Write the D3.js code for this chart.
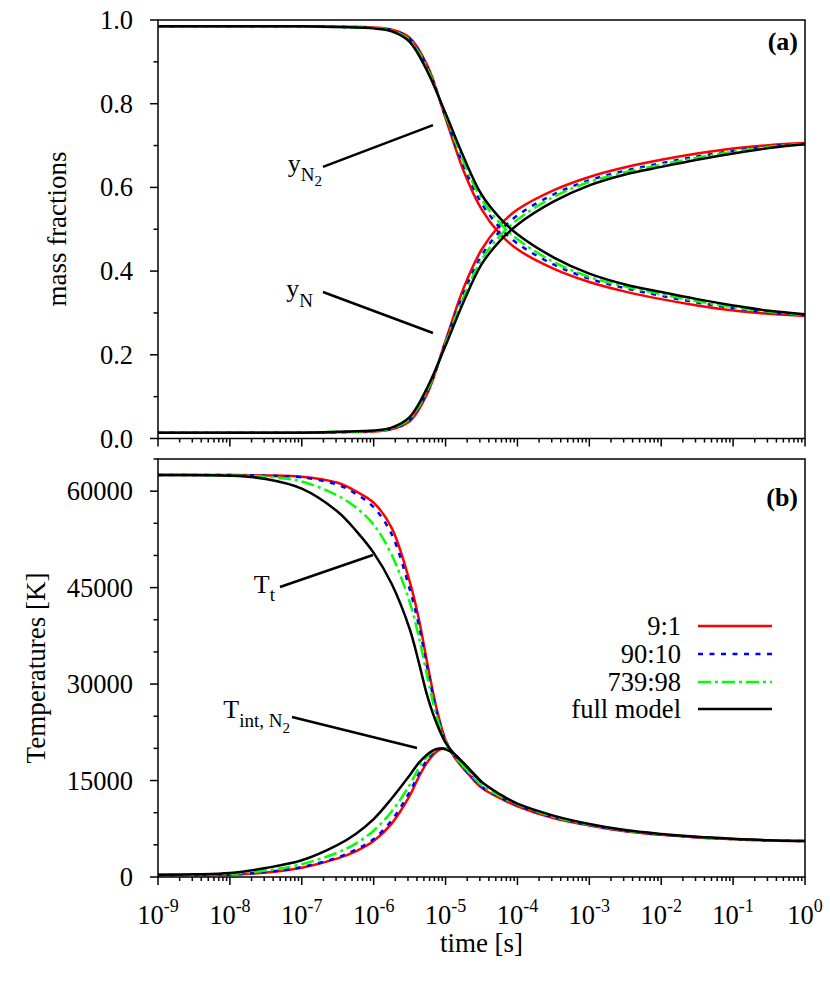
<!DOCTYPE html>
<html><head><meta charset="utf-8">
<script src="https://cdn.jsdelivr.net/npm/d3@7"></script>
</head><body style="margin:0">
<svg id="c" width="830" height="997"></svg>
<script>
// ---------- data ----------
const seriesNames = ["9:1", "90:10", "739:98", "full model"];

// panel (a): log10(time) grid
const logTimeA = [-9, -8, -7, -6.5, -6, -5.75, -5.5, -5.25, -5, -4.75, -4.5, -4.25, -4, -3.5, -3, -2.5, -2, -1.5, -1, -0.5, 0];
const yN2_9_1   = [0.985,0.985,0.985,0.984,0.982,0.977,0.958,0.890,0.765,0.640,0.548,0.490,0.452,0.406,0.374,0.351,0.333,0.318,0.306,0.298,0.293];
const yN2_90_10 = [0.985,0.985,0.985,0.984,0.981,0.976,0.955,0.886,0.769,0.652,0.562,0.505,0.466,0.416,0.382,0.359,0.341,0.325,0.312,0.301,0.295];
const yN2_739_98= [0.985,0.985,0.985,0.983,0.981,0.975,0.952,0.882,0.772,0.661,0.572,0.516,0.476,0.422,0.386,0.363,0.345,0.328,0.314,0.303,0.296];
const yN2_full  = [0.985,0.985,0.985,0.983,0.980,0.973,0.948,0.876,0.777,0.673,0.583,0.528,0.488,0.433,0.394,0.368,0.350,0.333,0.318,0.305,0.297];
const yN_9_1    = [0.014,0.014,0.014,0.015,0.017,0.022,0.041,0.109,0.234,0.359,0.451,0.509,0.547,0.593,0.625,0.648,0.666,0.681,0.693,0.701,0.706];
const yN_90_10  = [0.014,0.014,0.014,0.015,0.018,0.023,0.044,0.113,0.230,0.347,0.437,0.494,0.533,0.583,0.617,0.640,0.658,0.674,0.687,0.698,0.704];
const yN_739_98 = [0.014,0.014,0.014,0.016,0.018,0.024,0.047,0.117,0.227,0.338,0.427,0.483,0.523,0.577,0.613,0.636,0.654,0.671,0.685,0.697,0.704];
const yN_full   = [0.014,0.014,0.014,0.016,0.019,0.026,0.051,0.123,0.222,0.326,0.416,0.471,0.511,0.566,0.605,0.631,0.649,0.666,0.681,0.694,0.703];

// panel (b): translational temperature
const logTimeTt = [-9, -8, -7.5, -7, -6.5, -6.25, -6, -5.75, -5.5, -5.375, -5.25, -5.125, -5, -4.875, -4.75, -4.5, -4.25, -4, -3.5, -3, -2.5, -2, -1.5, -1, -0.5, 0];
const Tt_9_1    = [62500,62500,62450,62250,61300,60000,58200,54300,46000,40300,33000,26200,21300,18600,16900,13900,12300,11000,9150,8000,7100,6550,6150,5870,5680,5600];
const Tt_90_10  = [62500,62500,62400,62150,61000,59600,57500,53300,44800,39300,32300,25700,21200,18700,17000,14100,12450,11150,9270,8080,7170,6600,6180,5890,5690,5600];
const Tt_739_98 = [62500,62450,62250,61500,59300,57500,54800,50100,42800,37500,31000,25000,21100,18800,17200,14300,12600,11300,9380,8150,7230,6650,6210,5910,5700,5600];
const Tt_full   = [62500,62400,61900,60400,56800,53900,50400,45600,38600,33500,28000,23900,20900,19100,17700,14800,12900,11400,9550,8250,7300,6700,6250,5950,5720,5600];

// panel (b): internal temperature of N2
const logTimeTint = [-9, -8.5, -8, -7.5, -7, -6.5, -6.25, -6, -5.75, -5.5, -5.375, -5.25, -5.125, -5, -4.875, -4.75, -4.5];
const Tint_9_1    = [300,300,350,700,1450,2900,4000,5600,8300,12600,15500,17900,19500,20000,18900,16900,13900];
const Tint_90_10  = [300,320,380,760,1550,3050,4250,5900,8800,13200,16000,18300,19700,20000,19000,17000,14100];
const Tint_739_98 = [320,360,480,1000,2000,3800,5200,7200,10200,14300,16900,18800,19850,19950,19000,17200,14300];
const Tint_full   = [350,420,620,1400,2600,5000,6700,9000,12200,15800,17700,19100,19900,19850,19100,17700,14800];

// ticks
const xMajorExp = [-9,-8,-7,-6,-5,-4,-3,-2,-1,0];
const yTicksA = [0, 0.2, 0.4, 0.6, 0.8, 1.0];
const yMinorA = [0.1, 0.3, 0.5, 0.7, 0.9];
const yTicksB = [0, 15000, 30000, 45000, 60000];
const yMinorB = [5000, 10000, 20000, 25000, 35000, 40000, 50000, 55000, 65000];

// ---------- drawing ----------
const fontName = "Liberation Serif";
const colors = ["#ff0000", "#0000ff", "#00ff00", "#000000"];
const dashes = [null, "5,6.5", "13,4,3,4", null];

const svg = d3.select("#c").style("font-family", "'" + fontName + "'");
const L = 158, R = 805;
const x = d3.scaleLog().domain([1e-9, 1]).range([L, R]);
const yA = d3.scaleLinear().domain([0, 1]).range([438.5, 20]);
const yB = d3.scaleLinear().domain([0, 65000]).range([877, 459]);
const tx = e => x(Math.pow(10, e));

function txt(x0, y0, size) {
  return svg.append("text").attr("x", x0).attr("y", y0)
    .attr("font-size", size).style("font-family", "'" + fontName + "'");
}
function seg(x1, y1, x2, y2, w) {
  svg.append("line").attr("x1", x1).attr("y1", y1).attr("x2", x2).attr("y2", y2)
    .attr("stroke", "#000").attr("stroke-width", w);
}

function drawSeries(g, logs, vals, y, i) {
  const pts = logs.map((e, k) => [Math.pow(10, e), vals[k]]);
  const line = d3.line().x(d => x(d[0])).y(d => y(d[1])).curve(d3.curveCatmullRom.alpha(0.5));
  g.append("path").datum(pts).attr("d", line)
    .attr("fill", "none").attr("stroke", colors[i]).attr("stroke-width", 2.5)
    .attr("stroke-dasharray", dashes[i]).attr("stroke-linejoin", "round");
}

function frame(y) {
  const r = y.range();
  svg.append("rect").attr("x", L).attr("y", r[1]).attr("width", R - L).attr("height", r[0] - r[1])
    .attr("fill", "none").attr("stroke", "#000").attr("stroke-width", 1.5);
}

function xAxisTicks(y0, withLabels) {
  xMajorExp.forEach(e => seg(tx(e), y0, tx(e), y0 + 8, 1.5));
  xMajorExp.slice(0, -1).forEach(e => {
    for (let m = 2; m <= 9; m++) { const px = x(m * Math.pow(10, e)); seg(px, y0, px, y0 + 4, 1.5); }
  });
  if (withLabels) {
    xMajorExp.forEach(e => {
      const t = txt(tx(e), 924, 26.5).attr("text-anchor", "middle");
      t.append("tspan").text("10");
      t.append("tspan").attr("dy", -12).attr("font-size", 18).text(String(e));
    });
  }
}

function yAxisTicks(y, majors, minors, fmt) {
  majors.forEach(v => seg(L - 8, y(v), L, y(v), 1.5));
  minors.forEach(v => seg(L - 4.5, y(v), L, y(v), 1.5));
  majors.forEach(v => {
    txt(133, y(v) + 9, 26.5).attr("text-anchor", "end").text(fmt(v));
  });
}

// panel (a)
const gA = svg.append("g");
[[yN2_9_1, yN_9_1], [yN2_90_10, yN_90_10], [yN2_739_98, yN_739_98], [yN2_full, yN_full]].forEach((p, i) => {
  drawSeries(gA, logTimeA, p[0], yA, i);
  drawSeries(gA, logTimeA, p[1], yA, i);
});
frame(yA);
xAxisTicks(438.5, false);
yAxisTicks(yA, yTicksA, yMinorA, d3.format(".1f"));

// panel (b)
const gB = svg.append("g");
[[Tt_9_1, Tint_9_1], [Tt_90_10, Tint_90_10], [Tt_739_98, Tint_739_98], [Tt_full, Tint_full]].forEach((p, i) => {
  drawSeries(gB, logTimeTt, p[0], yB, i);
  drawSeries(gB, logTimeTint, p[1], yB, i);
});
frame(yB);
xAxisTicks(877, true);
yAxisTicks(yB, yTicksB, yMinorB, d => String(d));

// axis titles
txt(0, 0, 27).attr("transform", "translate(66,229) rotate(-90)").attr("text-anchor", "middle").text("mass fractions");
txt(0, 0, 27).attr("transform", "translate(45,668) rotate(-90)").attr("text-anchor", "middle").text("Temperatures [K]");
txt((L + R) / 2, 952, 27).attr("text-anchor", "middle").text("time [s]");

// panel tags
txt(798, 50, 26).attr("text-anchor", "end").attr("font-weight", "bold").text("(a)");
txt(798, 506, 26).attr("text-anchor", "end").attr("font-weight", "bold").text("(b)");

// annotations (data coordinates)
function annLine(y, x1, y1, x2, y2) {
  seg(tx(x1), y(y1), tx(x2), y(y2), 2.5);
}
function annText(y, lx, ly, parts) {
  const t = txt(tx(lx), y(ly), 26).attr("text-anchor", "end");
  parts.forEach(p => t.append("tspan").attr("dy", p[1]).attr("font-size", p[2]).text(p[0]));
}
annLine(yA, -6.705, 0.649, -5.175, 0.749);
annText(yA, -6.719, 0.637, [["y", 0, 26], ["N", 9, 19], ["2", 5, 15]]);
annLine(yA, -6.705, 0.350, -5.175, 0.252);
annText(yA, -6.844, 0.338, [["y", 0, 26], ["N", 10, 19]]);
annLine(yB, -7.303, 45096, -6.009, 50072);
annText(yB, -7.372, 44163, [["T", 0, 26], ["t", 8, 19]]);
annLine(yB, -7.136, 24880, -5.397, 20060);
annText(yB, -7.164, 24725, [["T", 0, 26], ["int, N", 9, 19], ["2", 6, 15]]);

// legend
const legRows = [626, 654, 682, 709];
seriesNames.forEach((n, i) => {
  txt(681, legRows[i] + 9, 26.5).attr("text-anchor", "end").text(n);
  svg.append("line").attr("x1", 698).attr("x2", 772).attr("y1", legRows[i]).attr("y2", legRows[i])
    .attr("stroke", colors[i]).attr("stroke-width", 2.5).attr("stroke-dasharray", dashes[i]);
});
</script>
</body></html>
